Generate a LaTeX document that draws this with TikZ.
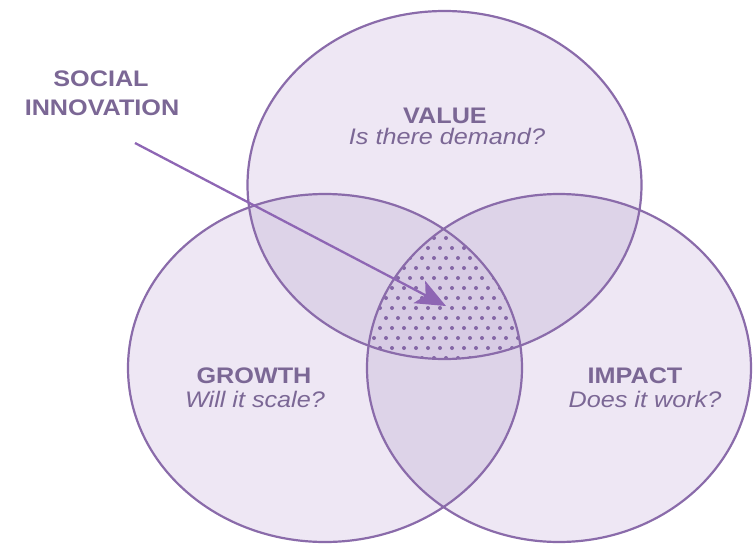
\documentclass[tikz,border=0pt]{standalone}
\usepackage{fontspec}
\newfontfamily\lblfont{Liberation Sans}[FakeStretch=1.12]
\usetikzlibrary{arrows.meta}
\definecolor{cone}{HTML}{EEE7F4}
\definecolor{ctwo}{HTML}{DDD3E8}
\definecolor{cthree}{HTML}{D7CBE4}
\definecolor{cstroke}{HTML}{8A6BAA}
\definecolor{ctext}{HTML}{7B6795}
\definecolor{cdot}{HTML}{8466A6}
\definecolor{carrow}{HTML}{8E66B4}
\tikzset{
  rim/.style={draw=cstroke, line width=2.2pt},
  title/.style={text=ctext, font=\lblfont\fontsize{22.5}{28}\selectfont\bfseries, inner sep=0pt},
  question/.style={text=ctext, font=\lblfont\fontsize{22.5}{28}\selectfont\itshape, inner sep=0pt},
  pointer/.style={draw=carrow, line width=2.3pt, -{Stealth[length=30pt,width=25pt,inset=7pt,fill=carrow]}}
}
\begin{document}
\begin{tikzpicture}[x=1pt,y=-1pt]
\useasboundingbox (0,0) rectangle (753,544);
\def\Ev{(444.5,185) ellipse [x radius=197pt, y radius=174pt]}
\def\Eg{(325,368) ellipse [x radius=197pt, y radius=174pt]}
\def\Ei{(559,368) ellipse [x radius=192pt, y radius=174pt]}
% single fills
\fill[cone] \Ev; \fill[cone] \Eg; \fill[cone] \Ei;
% pairwise overlaps
\begin{scope}\clip \Ev; \fill[ctwo] \Eg; \fill[ctwo] \Ei; \end{scope}
\begin{scope}\clip \Eg; \fill[ctwo] \Ei; \end{scope}
% triple overlap with dots
\begin{scope}
  \clip \Ev; \clip \Eg; \clip \Ei;
  \fill[cthree] (300,180) rectangle (600,380);
  \foreach \r in {0,...,19}{
    \pgfmathsetmacro{\yy}{198+\r*10}
    \pgfmathsetmacro{\off}{mod(\r,2)*6}
    \foreach \c in {0,...,15}{
      \fill[cdot] ({362+\c*12+\off},\yy) circle [radius=2pt];
    }
  }
\end{scope}
% outlines
\draw[rim] \Ev; \draw[rim] \Eg; \draw[rim] \Ei;
% labels
\node[title] (valuet) at (445,116) {VALUE};
\node[question] (valueq) at (447,136) {Is there demand?};
\node[title] (growtht) at (254,376) {GROWTH};
\node[question] (growthq) at (255,399) {Will it scale?};
\node[title] (impactt) at (635,376) {IMPACT};
\node[question] (impactq) at (645,399) {Does it work?};
\node[title] (socialt) at (101,79) {SOCIAL};
\node[title] (socialb) at (102,108) {INNOVATION};
% arrow
\coordinate (astart) at (135,143);
\coordinate (atip) at (446,306);
\draw[pointer] (astart) -- (atip);
\end{tikzpicture}
\end{document}
